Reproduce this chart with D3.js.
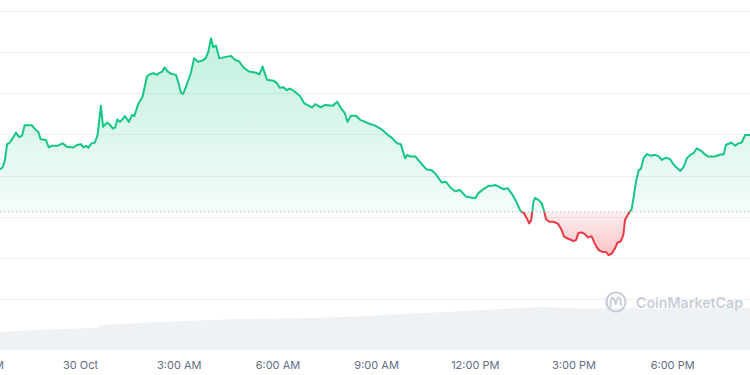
<!DOCTYPE html>
<html><head><meta charset="utf-8">
<script src="https://cdn.jsdelivr.net/npm/d3@7"></script>
<style>html,body{margin:0;padding:0;background:#fff;overflow:hidden}svg{display:block}</style>
</head><body><svg id="c" width="750" height="375"></svg>
<script>
// ---------- DATA ----------
const startTime = new Date(2023, 9, 29, 21, 34);
const totalMinutes = 1368;
const minutesFromStart = [
  0,5,9,13,18,23,29,35,40,45,
  58,64,70,74,84,89,94,105,114,122,
  134,140,148,152,157,161,167,173,178,184,
  188,195,199,206,210,214,219,225,228,235,
  241,245,252,260,268,274,280,286,291,296,
  300,306,313,321,325,330,334,339,348,354,
  361,368,375,380,385,389,394,400,410,421,
  429,436,444,454,468,473,479,487,499,
  505,510,517,523,529,538,547,555,564,569,
  575,585,593,607,615,622,629,634,640,649,
  657,666,675,684,696,705,716,724,731,739,
  743,748,757,769,778,788,795,806,813,823,
  830,839,850,859,867,873,882,891,898,904,
  912,918,926,934,943,949,956,961,965,969,
  973,976,982,988,992,996,1002,1009,1017,1023,
  1029,1034,1040,1046,1051,1055,1061,1067,1072,1079,
  1086,1092,1098,1106,1110,1116,1122,1126,1132,1137,
  1140,1146,1152,1155,1160,1165,1169,1174,1180,1186,
  1195,1201,1207,1214,1222,1228,1235,1241,1247,1253,
  1259,1265,1271,1279,1285,1292,1304,1314,1320,1324,
  1334,1341,1347,1353,1359,1368
];
const prices = [
  63.15,63.20,63.38,63.76,63.80,63.90,64.04,63.93,63.96,64.22,
  64.22,64.12,64.06,63.88,63.86,63.68,63.72,63.72,63.78,63.70,
  63.68,63.74,63.76,63.68,63.72,63.67,63.78,63.80,63.98,64.69,
  64.18,64.28,64.25,64.14,64.16,64.36,64.30,64.39,64.44,64.30,
  64.47,64.44,64.73,64.91,65.40,65.46,65.48,65.44,65.49,65.52,
  65.62,65.52,65.46,65.44,65.27,65.01,64.98,65.14,65.48,65.84,
  65.76,65.78,65.84,66.00,66.33,66.11,66.15,65.84,65.87,65.90,
  65.80,65.77,65.62,65.52,65.49,65.45,65.64,65.32,65.30,
  65.24,65.13,65.14,65.07,65.11,65.03,64.93,64.75,64.69,64.65,
  64.73,64.65,64.71,64.69,64.79,64.63,64.51,64.30,64.45,64.45,
  64.35,64.30,64.25,64.21,64.12,64.01,63.90,63.78,63.76,63.42,
  63.50,63.46,63.47,63.28,63.15,63.12,63.03,62.83,62.85,62.69,
  62.62,62.65,62.49,62.47,62.45,62.58,62.67,62.75,62.75,62.77,
  62.71,62.67,62.69,62.55,62.33,62.15,62.08,61.96,61.84,61.92,
  62.37,62.46,62.41,62.33,62.16,61.94,61.88,61.88,61.84,61.72,
  61.52,61.48,61.45,61.41,61.44,61.61,61.62,61.58,61.50,61.53,
  61.32,61.19,61.15,61.14,61.07,61.11,61.24,61.37,61.40,61.56,
  61.92,62.07,62.18,62.41,62.85,63.13,63.16,63.42,63.52,63.48,
  63.50,63.47,63.38,63.43,63.40,63.28,63.18,63.11,63.21,63.42,
  63.50,63.54,63.66,63.60,63.52,63.46,63.46,63.51,63.51,63.74,
  63.80,63.72,63.78,63.80,63.98,63.98
];
const referencePrice = 62.12;
const volumeMinutes = [0,60,151,179,182,243,334,420,456,547,638,730,821,912,949,985,1027,1058,1094,1186,1277,1368];
const volumes = [180,200,217,220,250,267,290,307,310,317,333,360,383,407,420,430,425,415,415,415,417,420];
const gridValues = [60,61,62,63,64,65,66,67];
const tickTimes = ["2023-10-29T21:00","2023-10-30T00:00","2023-10-30T03:00","2023-10-30T06:00","2023-10-30T09:00","2023-10-30T12:00","2023-10-30T15:00","2023-10-30T18:00"];
const tickLabels = ["9:00 PM","30 Oct","3:00 AM","6:00 AM","9:00 AM","12:00 PM","3:00 PM","6:00 PM"];

// ---------- CHART ----------
const W = 750, H = 375;
const svg = d3.select("#c");
const GREEN = "#16c784", RED = "#ea3943";
const tAt = m => new Date(+startTime + m * 60000);

const x = d3.scaleTime().domain([startTime, tAt(totalMinutes)]).range([0, W]);
const y = d3.scaleLinear().domain([60, 67]).range([299.3, 10.5]);
const yv = d3.scaleLinear().domain([0, 450]).range([350, 305]);

const data = minutesFromStart.map((m, i) => ({ t: tAt(m), p: prices[i] }));
const vdata = volumeMinutes.map((m, i) => ({ t: tAt(m), v: volumes[i] }));
const baseY = y(referencePrice);

const defs = svg.append("defs");
const gg = defs.append("linearGradient").attr("id", "gfill").attr("gradientUnits", "userSpaceOnUse")
  .attr("x1", 0).attr("x2", 0).attr("y1", y(d3.max(prices))).attr("y2", baseY);
gg.append("stop").attr("offset", 0).attr("stop-color", GREEN).attr("stop-opacity", 0.26);
gg.append("stop").attr("offset", 1).attr("stop-color", GREEN).attr("stop-opacity", 0.05);
const rg = defs.append("linearGradient").attr("id", "rfill").attr("gradientUnits", "userSpaceOnUse")
  .attr("x1", 0).attr("x2", 0).attr("y1", baseY).attr("y2", y(d3.min(prices)));
rg.append("stop").attr("offset", 0).attr("stop-color", RED).attr("stop-opacity", 0.08);
rg.append("stop").attr("offset", 1).attr("stop-color", RED).attr("stop-opacity", 0.30);
defs.append("clipPath").attr("id", "above").append("rect").attr("x", 0).attr("y", 0).attr("width", W).attr("height", baseY);
defs.append("clipPath").attr("id", "below").append("rect").attr("x", 0).attr("y", baseY).attr("width", W).attr("height", H - baseY);

// grid
svg.append("g").selectAll("line").data(gridValues).join("line")
  .attr("x1", 0).attr("x2", W)
  .attr("y1", d => Math.round(y(d)) + 0.5).attr("y2", d => Math.round(y(d)) + 0.5)
  .attr("stroke", "#eef0f3").attr("stroke-width", 1);

// volume
svg.append("path").datum(vdata)
  .attr("d", d3.area().x(d => x(d.t)).y0(yv(0)).y1(d => yv(d.v)))
  .attr("fill", "#eff2f5");

// fills
const area = d3.area().x(d => x(d.t)).y0(baseY).y1(d => y(d.p));
svg.append("path").datum(data).attr("d", area).attr("fill", "url(#gfill)").attr("clip-path", "url(#above)");
svg.append("path").datum(data).attr("d", area).attr("fill", "url(#rfill)").attr("clip-path", "url(#below)");

// reference dotted line
svg.append("line").attr("x1", 0).attr("x2", W).attr("y1", baseY).attr("y2", baseY)
  .attr("stroke", "#a7afbe").attr("stroke-width", 1).attr("stroke-dasharray", "1.2,2.8");

// line
const line = d3.line().x(d => x(d.t)).y(d => y(d.p));
svg.append("path").datum(data).attr("d", line).attr("fill", "none").attr("stroke", GREEN)
  .attr("stroke-width", 2).attr("stroke-linejoin", "round").attr("clip-path", "url(#above)");
svg.append("path").datum(data).attr("d", line).attr("fill", "none").attr("stroke", RED)
  .attr("stroke-width", 2).attr("stroke-linejoin", "round").attr("clip-path", "url(#below)");

// watermark
const wm = svg.append("g").attr("transform", "translate(616,302)");
wm.append("circle").attr("r", 9.5).attr("fill", "none").attr("stroke", "#c8ced8").attr("stroke-width", 2.2);
wm.append("path").attr("d", "M-5.5,5 C-5.5,-7 -2.5,-7 -0.3,2.5 C1.5,-7 4.5,-7 5,3")
  .attr("fill", "none").attr("stroke", "#c8ced8").attr("stroke-width", 2).attr("stroke-linecap", "round");
svg.append("text").attr("x", 636).attr("y", 308).text("CoinMarketCap")
  .attr("font-family", "Inter, sans-serif").attr("font-size", 14.5).attr("font-weight", 600)
  .attr("fill", "#c8ced8").attr("textLength", 107).attr("lengthAdjust", "spacingAndGlyphs");

// x axis labels
const xAxis = d3.axisBottom(x)
  .tickValues(tickTimes.map(s => new Date(s)))
  .tickFormat((d, i) => tickLabels[i]).tickSize(0).tickPadding(0);
const ax = svg.append("g").attr("transform", "translate(0,361)").call(xAxis);
ax.select(".domain").remove();
ax.selectAll("text").attr("font-family", "Inter, sans-serif").attr("font-size", 11)
  .attr("fill", "#616e85").attr("dy", "0.71em");
</script></body></html>
